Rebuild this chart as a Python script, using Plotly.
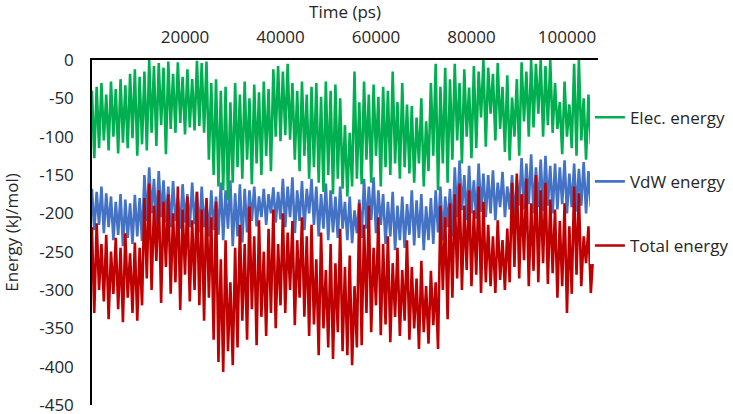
import plotly.graph_objects as go

# energies, one value every 500 ps starting at 500 ps
elec = [-40, -128, -35, -115,
        -30, -105, -45, -118, -28, -100, -38, -122, -25, -108, -33, -115,
        -18, -102, -12, -125, -22, -110, -15, -118,
        0, -95, -8, -112, -4, -85, -10, -123, -2, -90,
        -18, -95, -3, -82, -22, -97, -12, -88, -25, -92,
        -1, -86, -4, -95, -2, -130, -30, -150, -25, -165,
        -40, -170, -35, -183, -55, -160,
        -30, -140, -45, -155, -28, -130, -50, -162, -32, -135, -42, -150, -28, -125, -38, -145,
        -12, -100, -8, -106, -15, -98, -5, -104,
        -30, -130, -40, -145, -28, -125, -45, -155, -35, -140,
        -30, -160, -48, -172, -28, -150, -40, -175, -32, -155, -50, -168,
        -85, -178, -95, -165,
        -15, -155, -55, -162,
        -28, -130, -45, -160, -32, -125, -48, -165, -35, -140,
        -40, -150, -15, -135, -55, -155, -30, -140, -58, -148,
        -60, -160, -75, -135, -50, -165, -80, -145,
        -30, -125, -5, -170, -35, -135, -10, -160, -25, -130,
        -5, -105, -30, -135, -12, -100, -36, -128, -8, -115,
        -15, -75, 0, -113, -10, -70, -18, -105, -4, -90,
        -35, -120, -20, -131, -49, -100, -25, -125,
        -3, -80, -15, -100, 0, -88,
        -5, -70, 0, -100, -8, -85, 0, -95,
        -30, -90, -55, -123, -28, -100, -58, -115,
        -5, -125, 0, -105,
        -50, -130, -45, -110, -62, -75]

vdw = [-168, -222, -172, -215, -165, -226, -174, -218,
       -178, -235, -185, -228, -175, -243, -182, -232, -187, -240, -176, -230, -180, -236,
       -150, -210, -140, -200, -155, -215, -145, -205, -157, -212,
       -165, -218, -158, -210, -180, -220, -162, -212, -175, -218, -160, -214,
       -172, -225, -165, -218, -183, -230, -170, -222, -178, -228,
       -160, -235, -170, -220, -157, -243, -174, -230, -162, -238, -168, -225,
       -170, -210, -165, -217, -178, -205, -168, -215, -175, -200, -166, -212, -172, -208,
       -155, -218, -165, -205, -153, -226, -170, -210, -158, -222, -168, -200, -155, -215,
       -165, -230, -175, -220, -161, -235, -170, -225, -178, -232, -165, -220,
       -185, -235, -178, -239, -196, -226, -182, -232,
       -155, -220, -165, -209, -153, -226, -170, -215,
       -175, -240, -185, -230, -172, -248, -190, -235, -178, -245, -188, -228, -170, -242,
       -183, -232, -175, -248, -191, -235, -180, -240,
       -170, -225, -165, -235, -178, -218, -168, -230,
       -140, -205, -131, -196, -150, -209, -138, -200, -157, -207, -135, -198, -148, -205,
       -150, -200, -144, -209, -160, -192, -146, -205, -165, -195, -150, -208, -155, -190,
       -128, -195, -135, -188, -123, -200, -140, -192, -130, -197, -125, -190, -138, -200,
       -135, -195, -140, -188, -131, -200, -148, -192, -135, -198, -142, -190, -133, -200,
       -145, -192, -138, -170]

total = [-218, -330, -213, -300,
         -240, -315, -228, -338, -250, -305, -232, -325, -245, -342, -226, -310, -252, -330,
         -238, -340, -245, -320,
         -180, -285, -161, -300, -190, -262, -170, -317, -185, -270, -175, -305,
         -200, -290, -165, -326, -195, -280, -178, -315, -209, -300,
         -172, -320, -195, -340, -180, -310, -205, -365, -185, -394,
         -260, -407, -235, -380, -290, -398, -245, -375,
         -215, -340, -240, -365, -191, -325, -230, -372, -209, -335, -250, -360, -220, -330,
         -195, -350, -240, -320,
         -200, -330, -225, -300, -210, -346, -235, -310, -205, -335,
         -230, -360, -215, -345, -260, -385, -225, -350, -274, -375, -240, -390, -265, -355,
         -220, -380,
         -270, -385, -255, -398, -295, -375, -187, -372,
         -215, -330, -190, -355, -245, -320, -205, -359,
         -240, -345, -230, -368, -265, -335, -245, -360, -274, -340, -235, -365,
         -270, -350, -285, -377, -262, -355, -295, -370, -275, -346, -290, -377,
         -190, -300, -205, -338, -187, -310,
         -175, -285, -161, -300, -190, -274, -170, -295, -196, -280, -165, -304, -185, -290,
         -215, -295, -230, -304, -209, -287, -235, -300, -220, -290,
         -160, -270, -148, -285, -175, -261, -155, -295, -187, -275, -150, -290, -170, -265,
         -160, -292, -182, -278,
         -195, -310, -210, -295, -187, -330, -217, -305,
         -165, -280, -174, -295,
         -230, -265, -217, -304, -252, -245]

x_ticks = [20000, 40000, 60000, 80000, 100000]
y_ticks = [0, -50, -100, -150, -200, -250, -300, -350, -400, -450]


def times(vals):
    return [500 * (k + 1) for k in range(len(vals))]


fig = go.Figure()
# vdw drawn first so the other two sit on top of it
fig.add_trace(go.Scatter(x=times(vdw), y=vdw, mode='lines', name='VdW energy',
                         line=dict(color='#4472C4', width=2.6), legendrank=2, legendgroup='b'))
fig.add_trace(go.Scatter(x=times(elec), y=elec, mode='lines', name='Elec. energy',
                         line=dict(color='#00B050', width=2.6), legendrank=1, legendgroup='a'))
fig.add_trace(go.Scatter(x=times(total), y=total, mode='lines', name='Total energy',
                         line=dict(color='#C00000', width=2.6), legendrank=3, legendgroup='c'))

font = 'Open Sans, Calibri, sans-serif'
fig.update_layout(
    width=733, height=414,
    margin=dict(l=92, r=135, t=60, b=9, autoexpand=False),
    paper_bgcolor='white', plot_bgcolor='white',
    font=dict(family=font, size=17, color='#262626'),
    legend=dict(x=0.984, xanchor='left', y=0.885, yanchor='top',
                tracegroupgap=39, itemwidth=30, font=dict(size=17)),
    xaxis=dict(side='top', range=[520, 106500], tickvals=x_ticks,
               ticktext=[str(v) for v in x_ticks], showgrid=False, zeroline=False,
               showline=True, linecolor='black', linewidth=2, ticks='',
               ticklabelstandoff=8, automargin=False,
               title=dict(text='Time (ps)', font=dict(size=17), standoff=8)),
    yaxis=dict(range=[-450, 0], tickvals=y_ticks, ticktext=[str(v) for v in y_ticks],
               showgrid=False, zeroline=False, showline=True, linecolor='black',
               linewidth=1.5, ticks='', ticklabelstandoff=13, automargin=False,
               ticklabeloverflow='allow',
               title=dict(text='Energy (kJ/mol)', font=dict(size=17), standoff=30)),
)

# drop the page's default body margin so the figure fills the window exactly
fig.write_html('out.html', config={'displayModeBar': False},
               post_script="document.body.style.margin = '0';")
